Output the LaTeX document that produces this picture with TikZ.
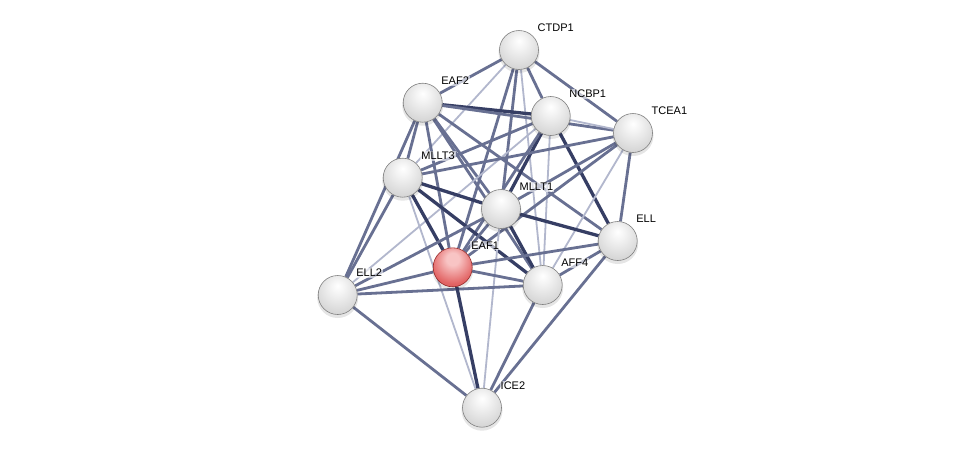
\documentclass[tikz,border=0pt]{standalone}
\usepackage{fontspec}
\setmainfont{Liberation Sans}
\usetikzlibrary{backgrounds,calc}
\definecolor{cweak}{RGB}{178,183,205}
\definecolor{cmed}{RGB}{104,112,146}
\definecolor{cstr}{RGB}{54,62,100}
\definecolor{rb1}{RGB}{248,196,196}
\definecolor{rb2}{RGB}{226,100,100}
\definecolor{rb3}{RGB}{204,76,76}
\definecolor{rb4}{RGB}{150,40,40}
\pgfdeclareradialshading{grayball}{\pgfpoint{0bp}{12bp}}{%
 color(0bp)=(white); color(8bp)=(white!96!black); color(28bp)=(white!85!black);
 color(44bp)=(white!76!black); color(54bp)=(white!60!black); color(70bp)=(white!50!black)}
\pgfdeclareradialshading{redball}{\pgfpoint{0bp}{12bp}}{%
 color(0bp)=(rb1); color(8bp)=(rb1); color(28bp)=(rb2);
 color(44bp)=(rb3); color(54bp)=(rb4); color(70bp)=(rb4)}
\tikzset{
 ew/.style={draw=cweak, line width=1.8pt},
 em/.style={draw=cmed, line width=2.8pt},
 es/.style={draw=cstr, line width=3.3pt},
 prot/.style={circle, minimum size=39pt, inner sep=0pt, shading=grayball, draw=white!50!black, line width=0.6pt},
 query/.style={prot, shading=redball, draw=rb4},
 lbl/.style={anchor=west, inner sep=1pt, fill=white, fill opacity=0.6, text opacity=1, font=\fontsize{11}{13}\selectfont},
}
\begin{document}
\begin{tikzpicture}[x=1pt,y=-1pt]
\useasboundingbox (0,0) rectangle (976,453);
% shadows
\foreach \p in {(519,50),(422.7,102.7),(550.7,116),(633,133),(402.7,177.7),(501,209),(617.7,241),(452.7,267.3),(542.7,285),(337.7,295),(482,407.7)}
  \fill[black, opacity=0.1] \p ++(0,2.5) circle (20.5);
\node[prot] (CTDP1) at (519,50) {};
\node[prot] (EAF2) at (422.7,102.7) {};
\node[prot] (NCBP1) at (550.7,116) {};
\node[prot] (TCEA1) at (633,133) {};
\node[prot] (MLLT3) at (402.7,177.7) {};
\node[prot] (MLLT1) at (501,209) {};
\node[prot] (ELL) at (617.7,241) {};
\node[query] (EAF1) at (452.7,267.3) {};
\node[prot] (AFF4) at (542.7,285) {};
\node[prot] (ELL2) at (337.7,295) {};
\node[prot] (ICE2) at (482,407.7) {};
\begin{scope}[on background layer]
\fill[white] (0,0) rectangle (976,453);
\draw[em] (CTDP1) -- (EAF2);
\draw[ew] (CTDP1) -- (MLLT3);
\draw[em] (CTDP1) -- (EAF1);
\draw[em] (CTDP1) -- (MLLT1);
\draw[ew] (CTDP1) -- (AFF4);
\draw[em] (CTDP1) -- (NCBP1);
\draw[em] (CTDP1) -- (TCEA1);
\draw[es] (EAF2) -- (NCBP1);
\draw[em] (EAF2) -- (TCEA1);
\draw[em] (EAF2) -- (MLLT3);
\draw[em] (EAF2) -- (ELL2);
\draw[em] (EAF2) -- (EAF1);
\draw[em] (EAF2) -- (MLLT1);
\draw[em] (EAF2) -- (AFF4);
\draw[em] (EAF2) -- (ELL);
\draw[ew] (NCBP1) -- (TCEA1);
\draw[em] (NCBP1) -- (MLLT3);
\draw[es] (NCBP1) -- (MLLT1);
\draw[em] (NCBP1) -- (EAF1);
\draw[ew] (NCBP1) -- (ELL2);
\draw[ew] (NCBP1) -- (AFF4);
\draw[es] (NCBP1) -- (ELL);
\draw[em] (TCEA1) -- (MLLT3);
\draw[em] (TCEA1) -- (MLLT1);
\draw[em] (TCEA1) -- (EAF1);
\draw[em] (TCEA1) -- (ELL);
\draw[ew] (TCEA1) -- (AFF4);
\draw[es] (MLLT3) -- (MLLT1);
\draw[es] (MLLT3) -- (EAF1);
\draw[es] (MLLT3) -- (AFF4);
\draw[em] (MLLT3) -- (ELL2);
\draw[ew] (MLLT3) -- (ICE2);
\draw[es] (MLLT1) -- (ELL);
\draw[es] (MLLT1) -- (AFF4);
\draw[em] (MLLT1) -- (EAF1);
\draw[em] (MLLT1) -- (ELL2);
\draw[ew] (MLLT1) -- (ICE2);
\draw[em] (ELL) -- (EAF1);
\draw[em] (ELL) -- (AFF4);
\draw[em] (ELL) -- (ICE2);
\draw[em] (AFF4) -- (ELL2);
\draw[em] (AFF4) -- (EAF1);
\draw[em] (AFF4) -- (ICE2);
\draw[em] (EAF1) -- (ELL2);
\draw[es] (EAF1) -- (ICE2);
\draw[em] (ELL2) -- (ICE2);
\end{scope}
\node[lbl] (lCTDP1) at ($(CTDP1)+(17.5,-22)$) {CTDP1};
\node[lbl] (lEAF2) at ($(EAF2)+(17.5,-22)$) {EAF2};
\node[lbl] (lNCBP1) at ($(NCBP1)+(17.5,-22)$) {NCBP1};
\node[lbl] (lTCEA1) at ($(TCEA1)+(17.5,-22)$) {TCEA1};
\node[lbl] (lMLLT3) at ($(MLLT3)+(17.5,-22)$) {MLLT3};
\node[lbl] (lMLLT1) at ($(MLLT1)+(17.5,-22)$) {MLLT1};
\node[lbl] (lELL) at ($(ELL)+(17.5,-22)$) {ELL};
\node[lbl] (lEAF1) at ($(EAF1)+(17.5,-22)$) {EAF1};
\node[lbl] (lAFF4) at ($(AFF4)+(17.5,-22)$) {AFF4};
\node[lbl] (lELL2) at ($(ELL2)+(17.5,-22)$) {ELL2};
\node[lbl] (lICE2) at ($(ICE2)+(17.5,-22)$) {ICE2};
\end{tikzpicture}
\end{document}
